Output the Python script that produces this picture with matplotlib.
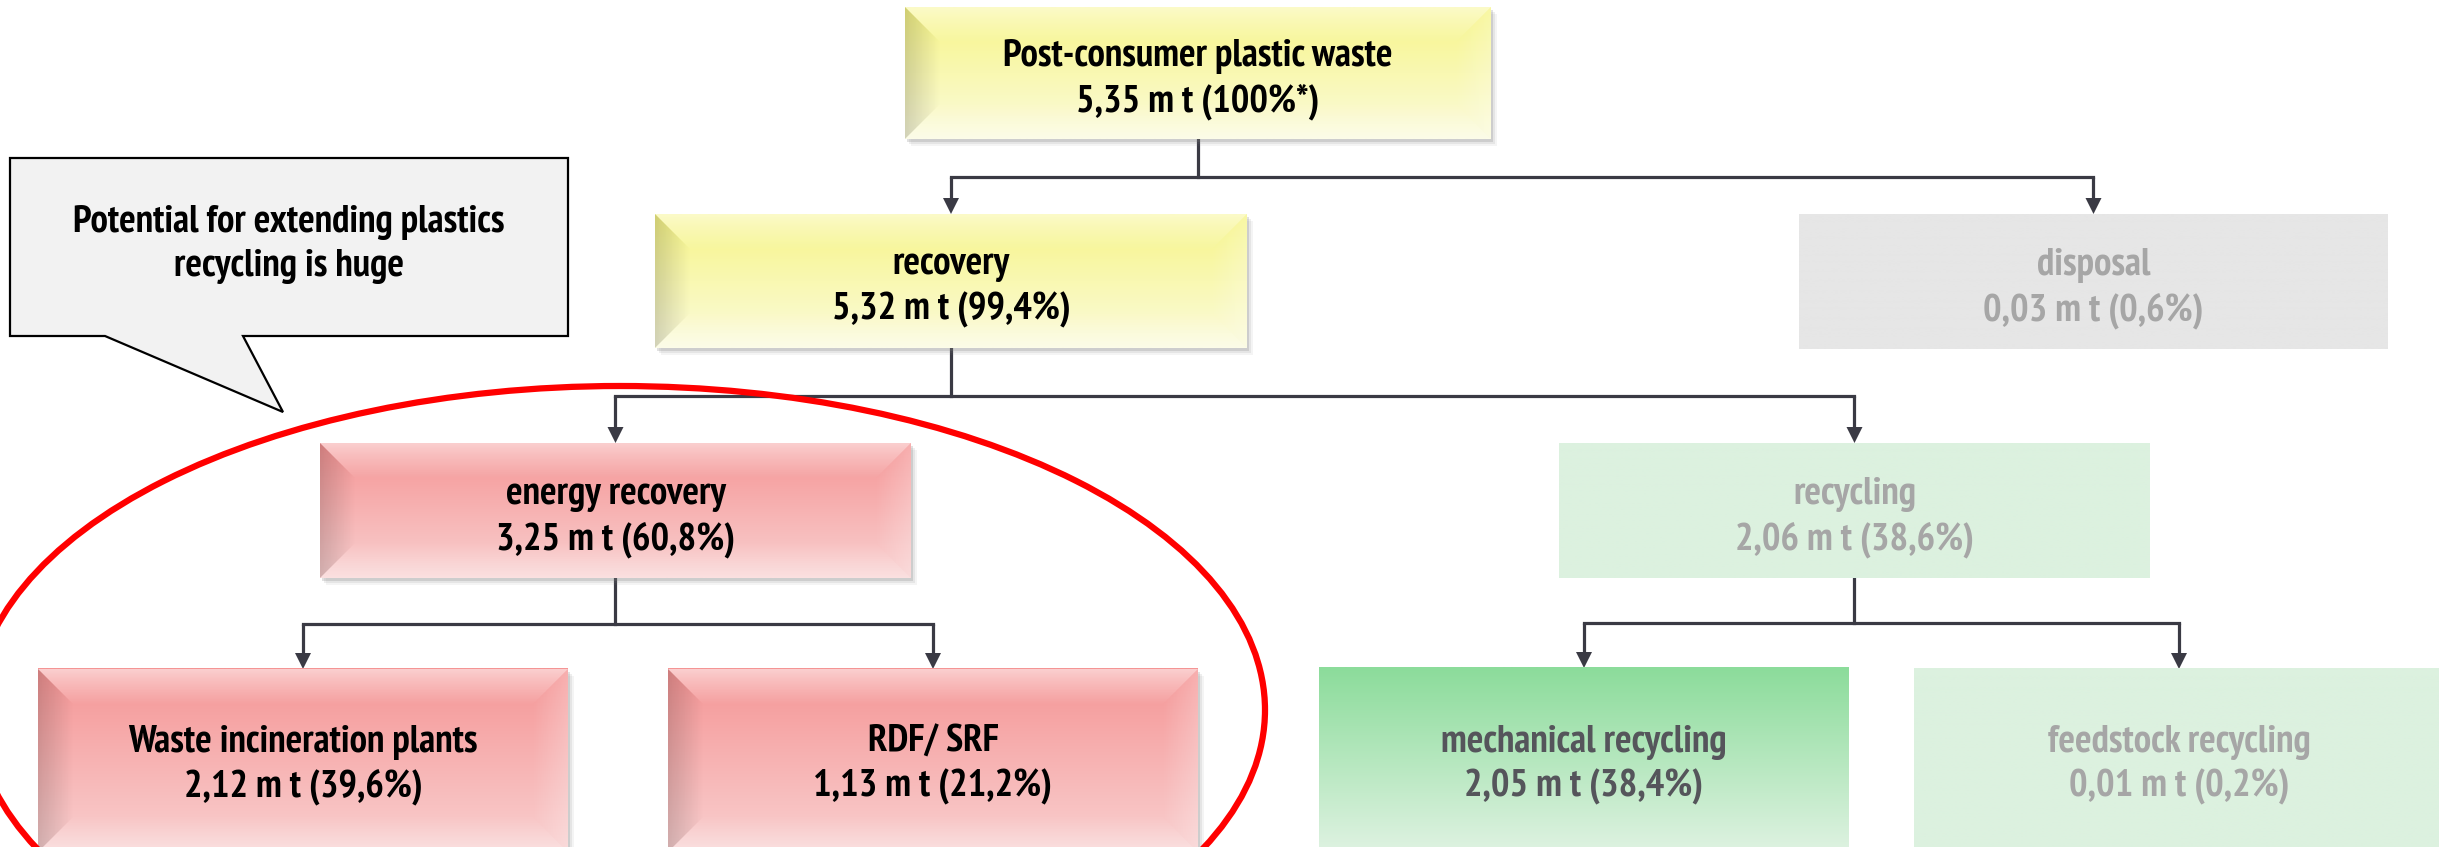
import matplotlib
matplotlib.use("Agg")
import matplotlib.pyplot as plt
from matplotlib import font_manager
from matplotlib.patches import Polygon, Rectangle, Ellipse
from matplotlib.colors import to_rgb
import numpy as np

# data: the waste flow tree
names = ["Post-consumer plastic waste", "recovery", "disposal",
         "energy recovery", "recycling",
         "Waste incineration plants", "RDF/ SRF",
         "mechanical recycling", "feedstock recycling"]
tonnes = [5.35, 5.32, 0.03, 3.25, 2.06, 2.12, 1.13, 2.05, 0.01]
shares = [100, 99.4, 0.6, 60.8, 38.6, 39.6, 21.2, 38.4, 0.2]
parents = [None, 0, 0, 1, 1, 3, 3, 4, 4]
callout = ["Potential for extending plastics", "recycling is huge"]

# layout (pixels, y downwards)
boxes = [(905, 7, 1491, 139), (655, 214, 1247, 348), (1799, 214, 2388, 349),
         (320, 443, 911, 578), (1559, 443, 2150, 578),
         (38, 669, 568, 852), (668, 669, 1198, 852),
         (1319, 668, 1849, 852), (1914, 669, 2444, 852)]
bus_y = {0: 177, 1: 396, 3: 624, 4: 623}
styles = ["yellow", "yellow", "gray", "red", "pale", "red", "red", "green", "pale"]

fills = {"yellow": ("#F7F588", "#FBFBDC"), "red": ("#F59595", "#F9D0D0"),
         "green": ("#8CDC9B", "#DEF2E1"), "gray": ("#E6E6E6", "#E6E6E6"),
         "pale": ("#DCF1DF", "#DCF1DF")}
txtcol = {"yellow": "black", "red": "black", "green": "#55555B",
          "gray": "#A6A6A6", "pale": "#A6A6A6"}


# look for a narrow bold face (Arial Narrow look), else plain bold sans
def pick_font():
    cands = []
    for f in font_manager.fontManager.ttflist:
        tag = (f.name + " " + f.fname).lower()
        if ("narrow" in tag or "condensed" in tag) and f.weight in (700, "bold") \
                and "italic" not in tag and "oblique" not in tag:
            rank = 0 if "narrow" in tag else (1 if "roboto" in tag else 2)
            cands.append((rank, f.fname))
    if cands:
        return font_manager.FontProperties(fname=sorted(cands)[0][1]), True
    return font_manager.FontProperties(family="Liberation Sans", weight="bold"), False


FP, NARROW = pick_font()
FS = 28 if NARROW else 22.5

W, H = 2439, 847
fig = plt.figure(figsize=(W / 100, H / 100), dpi=100)
ax = fig.add_axes([0, 0, 1, 1])
ax.set_xlim(0, W)
ax.set_ylim(H, 0)
ax.axis("off")

LINE = "#3A3A44"


def vgrad(c1, c2, n=64):
    a, b = np.array(to_rgb(c1)), np.array(to_rgb(c2))
    t = np.linspace(0, 1, n)[:, None]
    return (a * (1 - t) + b * t)[:, None, :]


def overlay(pts, color, a0, a1, horizontal, ext, z):
    n = 64
    al = np.linspace(a0, a1, n)
    img = np.zeros((n, n, 4))
    img[..., :3] = to_rgb(color)
    if horizontal:
        img[..., 3] = al[None, :]
    else:
        img[..., 3] = al[:, None]
    im = ax.imshow(img, extent=ext, origin="upper", aspect="auto", zorder=z,
                   interpolation="bilinear")
    clip = Polygon(pts, closed=True, transform=ax.transData, fc="none", ec="none")
    im.set_clip_path(clip)


def draw_box(i):
    x0, y0, x1, y1 = boxes[i]
    st = styles[i]
    bevel = st in ("yellow", "red")
    if bevel:
        for k, a in [(7, 0.08), (5, 0.12), (3, 0.22)]:
            ax.add_patch(Rectangle((x0 + k - 1, y0 + k), x1 - x0, y1 - y0,
                                   fc="#7A7A7A", ec="none", alpha=a, zorder=2))
    c1, c2 = fills[st]
    ax.imshow(vgrad(c1, c2), extent=(x0, x1, y1, y0), origin="upper",
              aspect="auto", zorder=3, interpolation="bilinear")
    if bevel:
        d = 36
        # top, left, right, bottom bevel faces
        overlay([(x0, y0), (x1, y0), (x1 - d, y0 + d), (x0 + d, y0 + d)], "white",
                0.55, 0.0, False, (x0, x1, y0 + d, y0), 4)
        overlay([(x0, y0), (x0 + d, y0 + d), (x0 + d, y1 - d), (x0, y1)], "#000000",
                0.16, 0.0, True, (x0, x0 + d, y1, y0), 4)
        overlay([(x1, y0), (x1 - d, y0 + d), (x1 - d, y1 - d), (x1, y1)], "white",
                0.0, 0.25, True, (x1 - d, x1, y1, y0), 4)
        overlay([(x0, y1), (x0 + d, y1 - d), (x1 - d, y1 - d), (x1, y1)], "white",
                0.0, 0.35, False, (x0, x1, y1, y1 - d), 4)
    cx = (x0 + x1) / 2
    cy = (y0 + y1) / 2 + 6
    if y1 > H:
        cy = 764
    share = f"{shares[i]:g}".replace(".", ",") + "%" + ("*" if i == 0 else "")
    label = f"{tonnes[i]:.2f}".replace(".", ",") + f" m t ({share})"
    kw = dict(ha="center", va="center", fontsize=FS, fontproperties=FP,
              color=txtcol[st], zorder=6)
    ax.text(cx, cy - 22, names[i], **kw)
    ax.text(cx, cy + 23, label, **kw)


def arrow_down(x, ytop, ybot):
    ax.plot([x, x], [ytop, ybot - 14], color=LINE, lw=2.3, zorder=1,
            solid_capstyle="butt")
    ax.add_patch(Polygon([(x - 8, ybot - 16), (x + 8, ybot - 16), (x, ybot)],
                         closed=True, fc=LINE, ec="none", zorder=1))


# connectors
for p in sorted(set(q for q in parents if q is not None)):
    kids = [k for k, q in enumerate(parents) if q == p]
    px = (boxes[p][0] + boxes[p][2]) / 2
    by = bus_y[p]
    cxs = [(boxes[k][0] + boxes[k][2]) / 2 for k in kids]
    ax.plot([px, px], [boxes[p][3], by], color=LINE, lw=2.3, zorder=1)
    ax.plot([min(cxs), max(cxs)], [by, by], color=LINE, lw=2.3, zorder=1,
            solid_capstyle="projecting")
    for k, cx in zip(kids, cxs):
        arrow_down(cx, by, boxes[k][1])

for i in range(len(names)):
    draw_box(i)

# red ellipse around energy recovery
ax.add_patch(Ellipse((620, 710), 2 * 645, 2 * 324, fill=False, ec="#FF0000",
                     lw=4.5, zorder=5))

# speech bubble
bubble = [(10, 158), (568, 158), (568, 336), (243, 336), (283, 412),
          (105, 336), (10, 336)]
ax.add_patch(Polygon(bubble, closed=True, fc="#F2F2F2", ec="black", lw=1.6,
                     zorder=6, joinstyle="miter"))
ax.text(289, 222, callout[0], ha="center", va="center", fontsize=FS,
        fontproperties=FP, zorder=7)
ax.text(289, 266, callout[1], ha="center", va="center", fontsize=FS,
        fontproperties=FP, zorder=7)

fig.savefig("out.png", dpi=100)
